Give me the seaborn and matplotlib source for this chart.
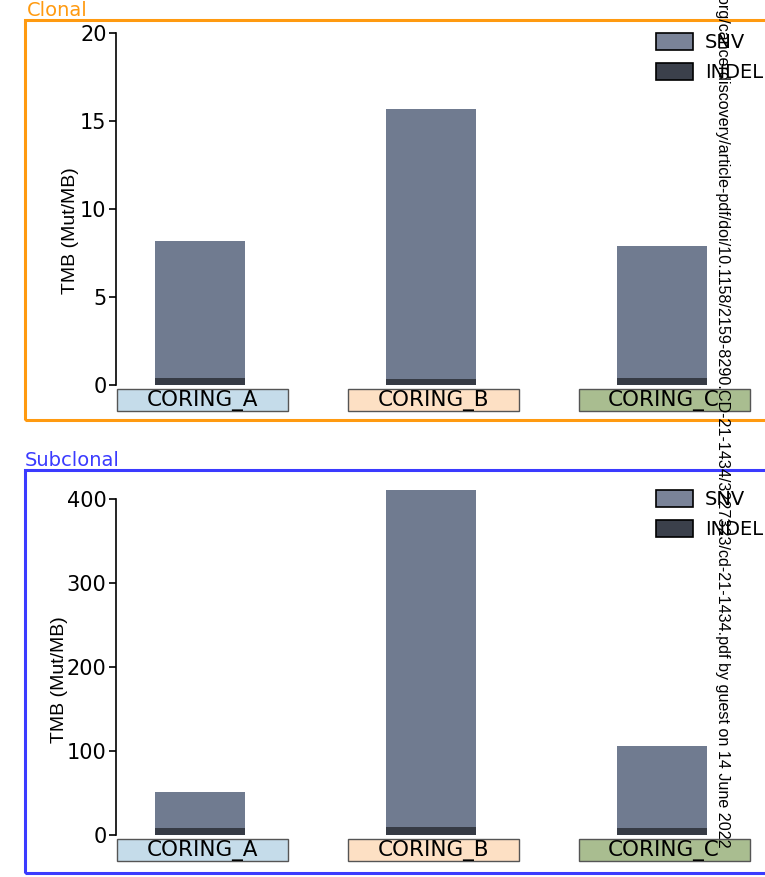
import matplotlib
matplotlib.use("Agg")
import matplotlib.pyplot as plt
import matplotlib.patches as mpatches
import matplotlib.transforms as mtransforms
import pandas as pd
import seaborn as sns

# samples and tumour mutation burden (Mut/MB)
samples = ["CORING_A", "CORING_B", "CORING_C"]
sample_colors = ["#c5dcea", "#fde0c4", "#a9bd90"]
clonal_snv = [8.2, 15.7, 7.9]
clonal_indel = [0.42, 0.36, 0.42]
subclonal_snv = [51, 410, 106]
subclonal_indel = [8.5, 9.5, 8.5]

snv_color = "#707b90"
indel_color = "#363b45"

sns.set_style("white")
plt.rcParams["font.family"] = ["DejaVu Sans"]
plt.rcParams.update({"text.color": "black", "axes.labelcolor": "black",
                     "ytick.color": "black", "xtick.color": "black"})

fig = plt.figure(figsize=(7.65, 8.77), dpi=100)


def panel(rect, snv, indel, yticks, ymax, label_xy):
    ax = fig.add_axes(rect)
    df = pd.DataFrame({"sample": samples, "snv": snv, "indel": indel})
    sns.barplot(data=df, x="sample", y="snv", color=snv_color, width=0.39,
                saturation=1, linewidth=0, edgecolor="none", ax=ax)
    sns.barplot(data=df, x="sample", y="indel", color=indel_color, width=0.39,
                saturation=1, linewidth=0, edgecolor="none", ax=ax)
    ax.set_xlim(-0.363, 2.447)
    ax.set_ylim(0, ymax)
    ax.set_yticks(yticks)
    ax.tick_params(axis="y", labelsize=15, direction="out", length=5, width=1.2,
                   left=True, pad=2)
    ax.set_xticks([])
    ax.set_xlabel("")
    ax.set_ylabel("TMB (Mut/MB)", fontsize=14,
                  family=["Liberation Sans", "DejaVu Sans"])
    ax.yaxis.set_label_coords(*label_xy)
    for s in ["top", "right", "bottom"]:
        ax.spines[s].set_visible(False)
    ax.spines["left"].set_bounds(yticks[0], yticks[-1])
    ax.spines["left"].set_linewidth(1.2)
    ax.spines["left"].set_color("black")

    # coloured sample boxes under the bars
    trans = mtransforms.blended_transform_factory(ax.transData, ax.transAxes)
    for i, (name, col) in enumerate(zip(samples, sample_colors)):
        ax.add_patch(mpatches.Rectangle((i - 0.36, -0.075), 0.74, 0.063,
                                        transform=trans, facecolor=col,
                                        edgecolor="#555555", lw=1,
                                        clip_on=False))
        ax.text(i + 0.01, -0.044, name, transform=trans, ha="center", va="center",
                fontsize=15.5)

    handles = [mpatches.Patch(facecolor="#7a8398", edgecolor="black", lw=1.2, label="SNV"),
               mpatches.Patch(facecolor="#3b404b", edgecolor="black", lw=1.2, label="INDEL")]
    ax.legend(handles=handles, loc="upper right", bbox_to_anchor=(1.015, 1.035),
              frameon=False, fontsize=14, handlelength=1.9, handleheight=1.0,
              labelspacing=0.55, borderaxespad=0.2, handletextpad=0.6)
    return ax


panel([0.152, 0.561, 0.848, 0.401], clonal_snv, clonal_indel,
      [0, 5, 10, 15, 20], 20, (-0.058, 0.44))
panel([0.152, 0.0479, 0.848, 0.3929], subclonal_snv, subclonal_indel,
      [0, 100, 200, 300, 400], 410, (-0.075, 0.45))

# panel frames and titles
fig.add_artist(mpatches.Rectangle((25 / 765, 1 - 420 / 877), 760 / 765, 400 / 877,
                                  transform=fig.transFigure, fill=False,
                                  edgecolor="#ff9a10", lw=2.2))
fig.text(27 / 765, 1 - 11 / 877, "Clonal", color="#ff9a10", fontsize=14,
         va="center", ha="left")
fig.add_artist(mpatches.Rectangle((25 / 765, 1 - 873 / 877), 760 / 765, 403 / 877,
                                  transform=fig.transFigure, fill=False,
                                  edgecolor="#3b3bff", lw=2.2))
fig.text(25 / 765, 1 - 461 / 877, "Subclonal", color="#3b3bff", fontsize=14,
         va="center", ha="left")

# download watermark along the right edge
fig.text(722 / 765, 1 - 848 / 877,
         "org/cancerdiscovery/article-pdf/doi/10.1158/2159-8290.CD-21-1434/3227323/"
         "cd-21-1434.pdf by guest on 14 June 2022",
         rotation=-90, fontsize=11.6, ha="center", va="bottom",
         family=["Liberation Sans", "DejaVu Sans"])

fig.savefig("out.png", dpi=100)
